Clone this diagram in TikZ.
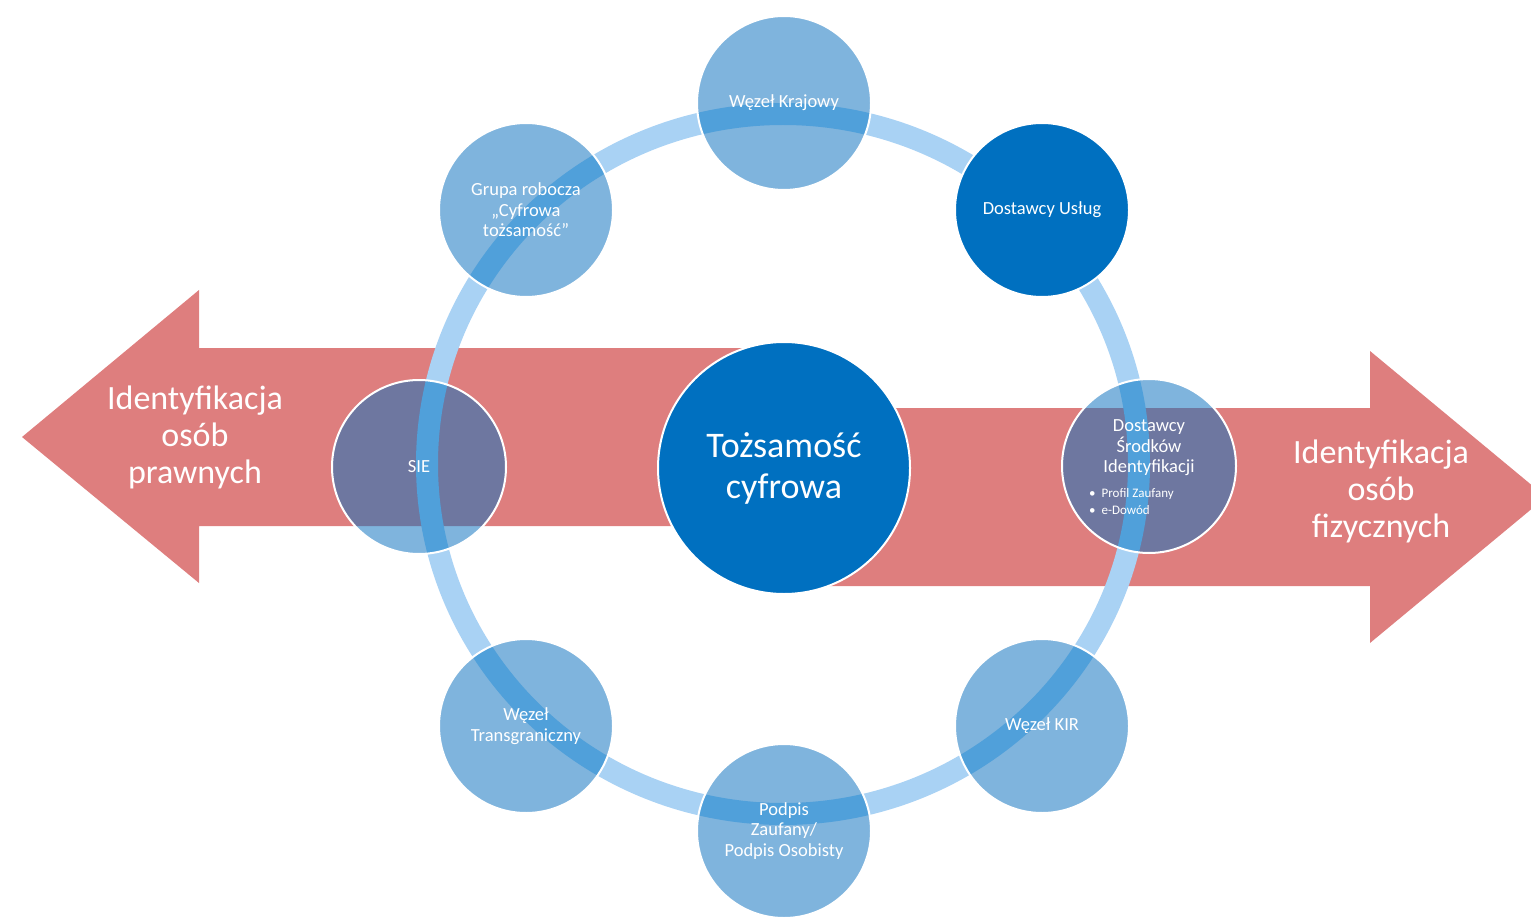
\documentclass[tikz,border=0pt]{standalone}
\usepackage{fontspec}
\setmainfont{Carlito}
\definecolor{ArrowRed}{RGB}{222,126,126}
\definecolor{RingBlue}{RGB}{169,210,244}
\definecolor{CircBlue}{RGB}{127,180,221}
\definecolor{DeepRing}{RGB}{80,160,218}
\definecolor{Mauve}{RGB}{110,119,160}
\definecolor{CoreBlue}{RGB}{0,112,192}
\pgfdeclarelayer{back}
\pgfdeclarelayer{mid}
\pgfsetlayers{back,mid,main}
\begin{document}
\begin{tikzpicture}[x=1pt, y=-1pt,
	every node/.style={text=white, align=center, font=\fontsize{18.5}{20.5}\selectfont},
	orbit/.style={circle, draw=white, line width=2pt, minimum size=174pt, inner sep=0pt},
	core/.style={circle, draw=white, line width=2pt, fill=CoreBlue, minimum size=252pt, inner sep=0pt, font=\fontsize{36}{41}\selectfont},
	side/.style={font=\fontsize{34}{37}\selectfont},
	listtag/.style={align=left, inner sep=0pt, anchor=west, font=\fontsize{13}{17}\selectfont}]
		\useasboundingbox (0,0) rectangle (1531,917);
		\coordinate (Ring) at (783,464);
		% circles on the ring
		\node[orbit] at (784,103) (WK) {Węzeł Krajowy};
		\node[orbit, fill=CoreBlue] at (1042,210) (DU) {Dostawcy Usług};
		\node[orbit] at (1149,466) (DSI) {};
		\node[orbit] at (1042,726) (KIR) {Węzeł KIR};
		\node[orbit] at (784,831) (PZ) {Podpis\\Zaufany/\\Podpis Osobisty};
		\node[orbit] at (526,726) (WT) {Węzeł\\Transgraniczny};
		\node[orbit] at (419,467) (SIE) {SIE};
		\node[orbit] at (526,210) (GR) {Grupa robocza\\„Cyfrowa\\tożsamość”};
		\node at (1149,448) (DSItext) {Dostawcy\\Środków\\Identyfikacji};
		\node[listtag] at (1089,502) (DSIlist) {\textbullet\hspace{6pt}Profil Zaufany\\\textbullet\hspace{6pt}e-Dowód};
		% centre
		\node[core] at (784,468) (TC) {Tożsamość\\cyfrowa};
		\node[side] at (195,437) (LeftLbl) {Identyfikacja\\osób\\prawnych};
		\node[side] at (1381,491) (RightLbl) {Identyfikacja\\osób\\fizycznych};
		\begin{pgfonlayer}{back}
			\fill[ArrowRed] (22,437) -- (199,290) -- (199,348) -- (760,348) -- (760,526) -- (199,526) -- (199,583) -- cycle;
			\fill[ArrowRed] (1546,497) -- (1370,351) -- (1370,408) -- (800,408) -- (800,586) -- (1370,586) -- (1370,643) -- cycle;
			\draw[RingBlue, line width=22pt] (Ring) ellipse[x radius=356pt, y radius=350pt];
		\end{pgfonlayer}
		\begin{pgfonlayer}{mid}
			\foreach \n in {WK,KIR,PZ,WT,SIE,GR,DSI} {
				\begin{scope}
					\clip (\n.center) circle[radius=87pt];
					\fill[CircBlue] (\n.center) circle[radius=87pt];
					\fill[Mauve] (199,348) rectangle (760,526) (800,408) rectangle (1370,586);
					\draw[DeepRing, line width=22pt] (Ring) ellipse[x radius=356pt, y radius=350pt];
				\end{scope}
			}
		\end{pgfonlayer}
\end{tikzpicture}
\end{document}
